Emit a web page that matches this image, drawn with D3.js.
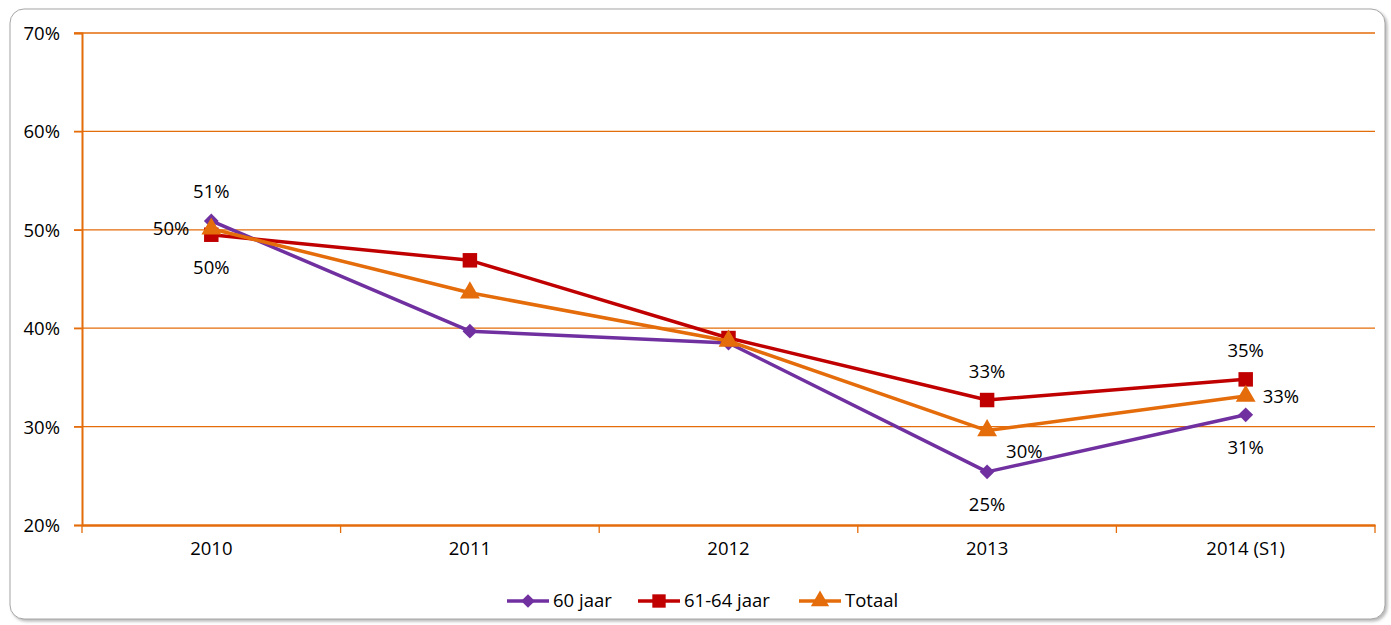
<!DOCTYPE html>
<html>
<head>
<meta charset="utf-8">
<script src="https://cdn.jsdelivr.net/npm/d3@7"></script>
<style>
  body { margin: 0; background: #fff; }
  text { font-family: "Open Sans", sans-serif; fill: #000; }
</style>
</head>
<body>
<svg id="chart" width="1391" height="625"></svg>
<script>
// data
var categories = ["2010", "2011", "2012", "2013", "2014 (S1)"];
var jaar60 = [50.9, 39.7, 38.5, 25.4, 31.2];
var jaar6164 = [49.5, 46.9, 39.0, 32.7, 34.8];
var totaal = [50.1, 43.6, 38.7, 29.6, 33.1];
var yTicks = [20, 30, 40, 50, 60, 70];

// which points carry a label, and where it sits
var labels60 = {0: "above", 3: "below", 4: "below"};
var labels6164 = {0: "below", 3: "above", 4: "above"};
var labelsTot = {0: "left", 3: "belowright", 4: "right"};

var FONT = "18.5px";

// diamond = square turned 45 degrees, as excel draws it
var diamond = {
  draw: function(ctx, size) {
    var r = Math.sqrt(size) / 2 * Math.SQRT2;
    ctx.moveTo(0, -r); ctx.lineTo(r, 0); ctx.lineTo(0, r); ctx.lineTo(-r, 0); ctx.closePath();
  }
};

var series = [
  {name: "60 jaar", values: jaar60, color: "#7030A0", symbol: diamond, size: 110, labels: labels60},
  {name: "61-64 jaar", values: jaar6164, color: "#C00000", symbol: d3.symbolSquare, size: 210, labels: labels6164},
  {name: "Totaal", values: totaal, color: "#E46C0A", symbol: d3.symbolTriangle, size: 170, labels: labelsTot}
];

var svg = d3.select("#chart");
var margin = {left: 82, right: 16, top: 33, bottom: 100};
var width = 1391, height = 625;

// frame with soft shadow
var defs = svg.append("defs");
var f = defs.append("filter").attr("id", "sh").attr("x", "-5%").attr("y", "-5%").attr("width", "110%").attr("height", "110%");
f.append("feDropShadow").attr("dx", 2).attr("dy", 2).attr("stdDeviation", 1.5).attr("flood-color", "#888").attr("flood-opacity", 0.6);
svg.append("rect")
  .attr("x", 10).attr("y", 9).attr("width", 1375).attr("height", 610)
  .attr("rx", 14).attr("fill", "#fff").attr("stroke", "#a6a6a6").attr("stroke-width", 1)
  .attr("filter", "url(#sh)");

var x = d3.scaleBand().domain(categories).range([margin.left, width - margin.right]);
var y = d3.scaleLinear().domain([20, 70]).range([height - margin.bottom, margin.top]);
var cx = function(i) { return x(categories[i]) + x.bandwidth() / 2; };

// gridlines
svg.append("g").selectAll("line").data(yTicks.slice(1)).join("line")
  .attr("x1", margin.left - 8).attr("x2", width - margin.right)
  .attr("y1", d => y(d)).attr("y2", d => y(d))
  .attr("stroke", "#E46C0A").attr("stroke-width", 1.3);

// y axis
var yAxis = svg.append("g").attr("transform", "translate(" + margin.left + ",0)")
  .call(d3.axisLeft(y).tickValues(yTicks).tickSize(8).tickFormat(d => d + "%"));
yAxis.select(".domain").attr("stroke", "#E46C0A").attr("stroke-width", 2);
yAxis.selectAll(".tick line").attr("stroke", "#E46C0A").attr("stroke-width", 1.3);
yAxis.selectAll(".tick text").attr("x", -22).attr("dy", "0.35em")
  .style("font-size", FONT).style("font-family", "'Open Sans', sans-serif").attr("fill", "#000");

// x axis
var xAxis = svg.append("g").attr("transform", "translate(0," + y(20) + ")")
  .call(d3.axisBottom(x).tickSize(0).tickPadding(17));
xAxis.select(".domain").attr("stroke", "#E46C0A").attr("stroke-width", 2.5);
xAxis.selectAll(".tick text").style("font-size", FONT).style("font-family", "'Open Sans', sans-serif").attr("fill", "#000");
// tick marks between categories
var bounds = categories.map(c => x(c)).concat([x(categories[categories.length - 1]) + x.bandwidth()]);
xAxis.selectAll(".sep").data(bounds).join("line").attr("class", "sep")
  .attr("x1", d => d).attr("x2", d => d).attr("y1", 0).attr("y2", 8)
  .attr("stroke", "#E46C0A").attr("stroke-width", 1.3);

// lines and markers
var line = d3.line().x((d, i) => cx(i)).y(d => y(d));
series.forEach(function(s) {
  var g = svg.append("g");
  g.append("path").datum(s.values).attr("d", line)
    .attr("fill", "none").attr("stroke", s.color).attr("stroke-width", 3.5).attr("stroke-linejoin", "round");
  g.selectAll("path.m").data(s.values).join("path").attr("class", "m")
    .attr("d", d3.symbol().type(s.symbol).size(s.size))
    .attr("transform", (d, i) => "translate(" + cx(i) + "," + y(d) + ")")
    .attr("fill", s.color);
});

// data labels
series.forEach(function(s) {
  Object.keys(s.labels).forEach(function(k) {
    var i = +k, v = s.values[i], pos = s.labels[k];
    var px = cx(i), py = y(v), anchor = "middle";
    if (pos === "above") py -= 29;
    else if (pos === "below") py += 33;
    else if (pos === "left") { px -= 22; anchor = "end"; }
    else if (pos === "right") { px += 17; anchor = "start"; }
    else if (pos === "belowright") { px += 19; py += 21; anchor = "start"; }
    svg.append("text").attr("x", px).attr("y", py).attr("dy", "0.35em")
      .attr("text-anchor", anchor).style("font-size", FONT)
      .text(Math.round(v) + "%");
  });
});

// legend
var legendX = [507, 638, 799];
var lg = svg.append("g").attr("transform", "translate(0,601)");
series.forEach(function(s, i) {
  var g = lg.append("g").attr("transform", "translate(" + legendX[i] + ",0)");
  g.append("line").attr("x1", 0).attr("x2", 42).attr("stroke", s.color).attr("stroke-width", 3.5);
  g.append("path").attr("d", d3.symbol().type(s.symbol).size(s.size * 0.85))
    .attr("transform", "translate(21,0)").attr("fill", s.color);
  g.append("text").attr("x", 46).attr("dy", "0.35em").style("font-size", FONT).text(s.name);
});
</script>
</body>
</html>
